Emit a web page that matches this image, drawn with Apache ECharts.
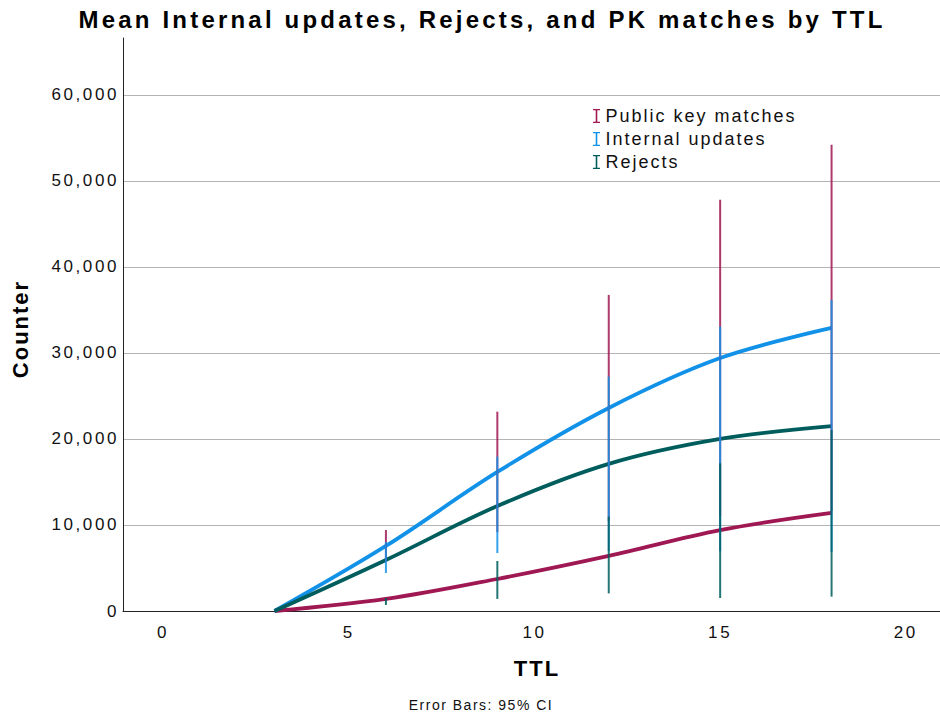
<!DOCTYPE html>
<html>
<head>
<meta charset="utf-8">
<script src="https://cdn.jsdelivr.net/npm/echarts@6/dist/echarts.min.js"></script>
<style>
  html, body { margin: 0; padding: 0; background: #ffffff; }
  #chart { width: 940px; height: 721px; }
</style>
</head>
<body>
<div id="chart"></div>
<script>
// TTL values at which the three counters were measured
const ttl = [3, 6, 9, 12, 15, 18];
const xTicks = [0, 5, 10, 15, 20];
const seriesNames = ['Public key matches', 'Internal updates', 'Rejects'];

// Mean counter values per TTL
const pkMean = [0, 1400, 3720, 6400, 9400, 11400];
const internalMean = [0, 7560, 16160, 23600, 29400, 32900];
const rejectsMean = [0, 5930, 12200, 17100, 20000, 21500];

// 95% CI error bars, one set per legend entry (drawn in the entry's colour)
const pkLow = [0, 5700, 9160, 10460, 11010, 11610];
const pkHigh = [0, 9420, 23170, 36740, 47790, 54190];
const internalLow = [0, 4420, 6740, 6960, 6940, 6840];
const internalHigh = [0, 8020, 17940, 27240, 33060, 36160];
const rejectsLow = [0, 700, 1400, 2050, 1510, 1670];
const rejectsHigh = [0, 1510, 5810, 10970, 17170, 21050];

const COLORS = { pk: '#9f1853', internal: '#1192e8', rejects: '#005d5d' };
const FONT = 'Liberation Sans, Arial, sans-serif';

// tracking (px) applied to the rendered SVG text, keyed by font size
const TRACKING = { 24: 3.2, 22: 2.0, 18: 2.0, 17: 2.6, 14: 1.5 };

function lineSeries(name, color, values) {
  return {
    type: 'line',
    name: name,
    color: color,
    data: ttl.map((t, i) => [t, values[i]]),
    smooth: 0.35,
    symbol: 'none',
    lineStyle: { width: 3.8, color: color },
    z: 2
  };
}

function errorSeries(name, color, low, high, z) {
  return {
    type: 'custom',
    name: name + ' 95% CI',
    silent: true,
    z: z,
    data: ttl.map((t, i) => [t, low[i], high[i]]).filter(d => d[2] > d[1]),
    encode: { x: 0, y: [1, 2] },
    renderItem: function (params, api) {
      const a = api.coord([api.value(0), api.value(1)]);
      const b = api.coord([api.value(0), api.value(2)]);
      return {
        type: 'line',
        shape: { x1: a[0], y1: a[1], x2: b[0], y2: b[1] },
        style: { stroke: color, lineWidth: 2, opacity: 0.85 }
      };
    }
  };
}

const chart = echarts.init(document.getElementById('chart'), null, { renderer: 'svg' });

chart.setOption({
  backgroundColor: '#ffffff',
  animation: false,
  textStyle: { fontFamily: FONT },
  grid: { left: 123, right: 0, top: 38, bottom: 110, containLabel: false },
  graphic: [
    {
      type: 'text', x: 482, y: 19,
      style: {
        text: 'Mean Internal updates, Rejects, and PK matches by TTL',
        font: 'bold 24px ' + FONT, fill: '#000000',
        align: 'center', verticalAlign: 'middle'
      }
    },
    {
      type: 'text', x: 537, y: 668,
      style: {
        text: 'TTL',
        font: 'bold 22px ' + FONT, fill: '#000000',
        align: 'center', verticalAlign: 'middle'
      }
    },
    {
      type: 'text', x: 20, y: 329, rotation: Math.PI / 2,
      style: {
        text: 'Counter',
        font: 'bold 22px ' + FONT, fill: '#000000',
        align: 'center', verticalAlign: 'middle'
      }
    },
    {
      type: 'text', x: 481, y: 705,
      style: {
        text: 'Error Bars: 95% CI',
        font: '14px ' + FONT, fill: '#111111',
        align: 'center', verticalAlign: 'middle'
      }
    }
  ],
  legend: {
    data: seriesNames,
    orient: 'vertical',
    left: 588,
    top: 102,
    itemGap: 5,
    itemWidth: 8,
    itemHeight: 14,
    icon: 'path://M0,0H8V1.5H0Z M3.1,0H4.9V16H3.1Z M0,14.5H8V16H0Z',
    textStyle: { fontSize: 18, color: '#111111', fontFamily: FONT },
    selectedMode: false
  },
  xAxis: {
    type: 'value',
    min: -1.08,
    max: 20.92,
    axisLine: { show: true, onZero: false, lineStyle: { color: '#222222', width: 1 } },
    axisTick: { show: false },
    splitLine: { show: false },
    axisLabel: {
      customValues: xTicks,
      fontSize: 17,
      color: '#111111',
      margin: 13,
      fontFamily: FONT
    }
  },
  yAxis: {
    type: 'value',
    min: 0,
    max: 66600,
    interval: 10000,
    axisLine: { show: true, onZero: false, lineStyle: { color: '#222222', width: 1 } },
    axisTick: { show: false },
    splitLine: { show: true, showMinLine: false, showMaxLine: false, lineStyle: { color: '#b4b4b4', width: 1 } },
    axisLabel: {
      fontSize: 17,
      color: '#111111',
      margin: 4,
      showMaxLabel: false,
      fontFamily: FONT,
      formatter: v => v.toLocaleString('en-US')
    }
  },
  series: [
    lineSeries(seriesNames[0], COLORS.pk, pkMean),
    lineSeries(seriesNames[1], COLORS.internal, internalMean),
    lineSeries(seriesNames[2], COLORS.rejects, rejectsMean),
    errorSeries(seriesNames[0], COLORS.pk, pkLow, pkHigh, 3),
    errorSeries(seriesNames[1], COLORS.internal, internalLow, internalHigh, 4),
    errorSeries(seriesNames[2], COLORS.rejects, rejectsLow, rejectsHigh, 5)
  ]
});

// widen the letter spacing of every rendered label according to its size
document.querySelectorAll('#chart text').forEach(function (el) {
  const size = Math.round(parseFloat(getComputedStyle(el).fontSize));
  const track = TRACKING[size];
  if (track) el.style.letterSpacing = track + 'px';
});
</script>
</body>
</html>
